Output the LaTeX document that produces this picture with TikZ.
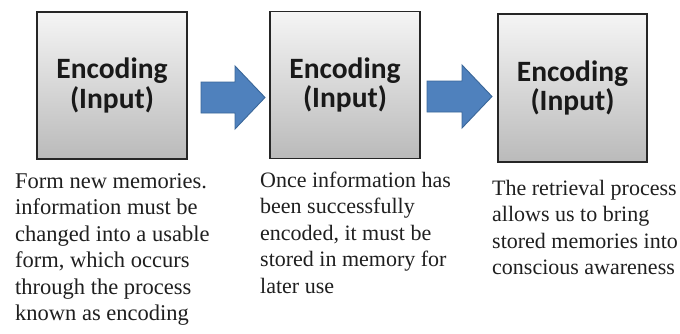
\documentclass[tikz,border=0pt]{standalone}
\usepackage{fontspec}
\setmainfont{Liberation Serif}
\newfontfamily\boxfont{Carlito}
\usetikzlibrary{backgrounds}
\definecolor{arrowblue}{HTML}{4F81BD}
\definecolor{arrowedge}{HTML}{3A6799}
\tikzset{
  stagebox/.style={draw=black!85, line width=1.1pt, top color=black!4, bottom color=black!27,
    minimum width=150pt, minimum height=147pt, inner sep=0pt, align=center,
    font=\boxfont\bfseries\fontsize{29.5}{29.5}\selectfont, text=black!90},
  caption/.style={anchor=base west, align=left, inner sep=0pt,
    font=\fontsize{22}{26.5}\selectfont, text=black!88},
  blockarrow/.style={fill=arrowblue, draw=arrowedge, line width=0.9pt, line join=miter}
}
\begin{document}
\begin{tikzpicture}[x=1pt, y=-1pt]
  \useasboundingbox[fill=white] (0,0) rectangle (680,333);

  % stage boxes
  \node[stagebox] (b1) at (112,85.5) {Encoding\\(Input)};
  \node[stagebox] (b2) at (345,85) {Encoding\\(Input)};
  \node[stagebox, minimum width=149pt, minimum height=148pt] (b3) at (572.5,88) {Encoding\\(Input)};

  % soft drop shadows under the boxes
  \begin{scope}[on background layer]
    \foreach \b in {b1,b2,b3}{
      \foreach \k in {0,1,2,3,4,5}{
        \fill[black, opacity=0.09]
          ([xshift={1pt-\k*0.7pt}, yshift={-3pt-\k*0.7pt}]\b.south west)
          rectangle ([xshift={1pt+\k*0.7pt}, yshift={-3pt+\k*0.7pt}]\b.north east);
      }
    }
  \end{scope}

  % block arrows between the stages
  \coordinate (a1) at (201,97.5);
  \coordinate (a2) at (427,96.5);
  \draw[blockarrow] (a1) ++(0,-15.5) -- ++(34,0) -- ++(0,-16) -- ++(30,31.5)
    -- ++(-30,31.5) -- ++(0,-16) -- ++(-34,0) -- cycle;
  \draw[blockarrow] (a2) ++(0,-15.5) -- ++(35,0) -- ++(0,-16) -- ++(30,31.5)
    -- ++(-30,31.5) -- ++(0,-16) -- ++(-35,0) -- cycle;

  % descriptions below the boxes (anchored at the baseline of the last line)
  \node[caption, font=\fontsize{22.5}{26.5}\selectfont] (t1) at (15,320.5) {Form new memories.\\information must be\\changed into a usable\\form, which occurs\\through the process\\known as encoding};
  \node[caption] (t2) at (260,293) {Once information has\\been successfully\\encoded, it must be\\stored in memory for\\later use};
  \node[caption] (t3) at (492,274.5) {The retrieval process\\allows us to bring\\stored memories into\\conscious awareness};
\end{tikzpicture}
\end{document}
